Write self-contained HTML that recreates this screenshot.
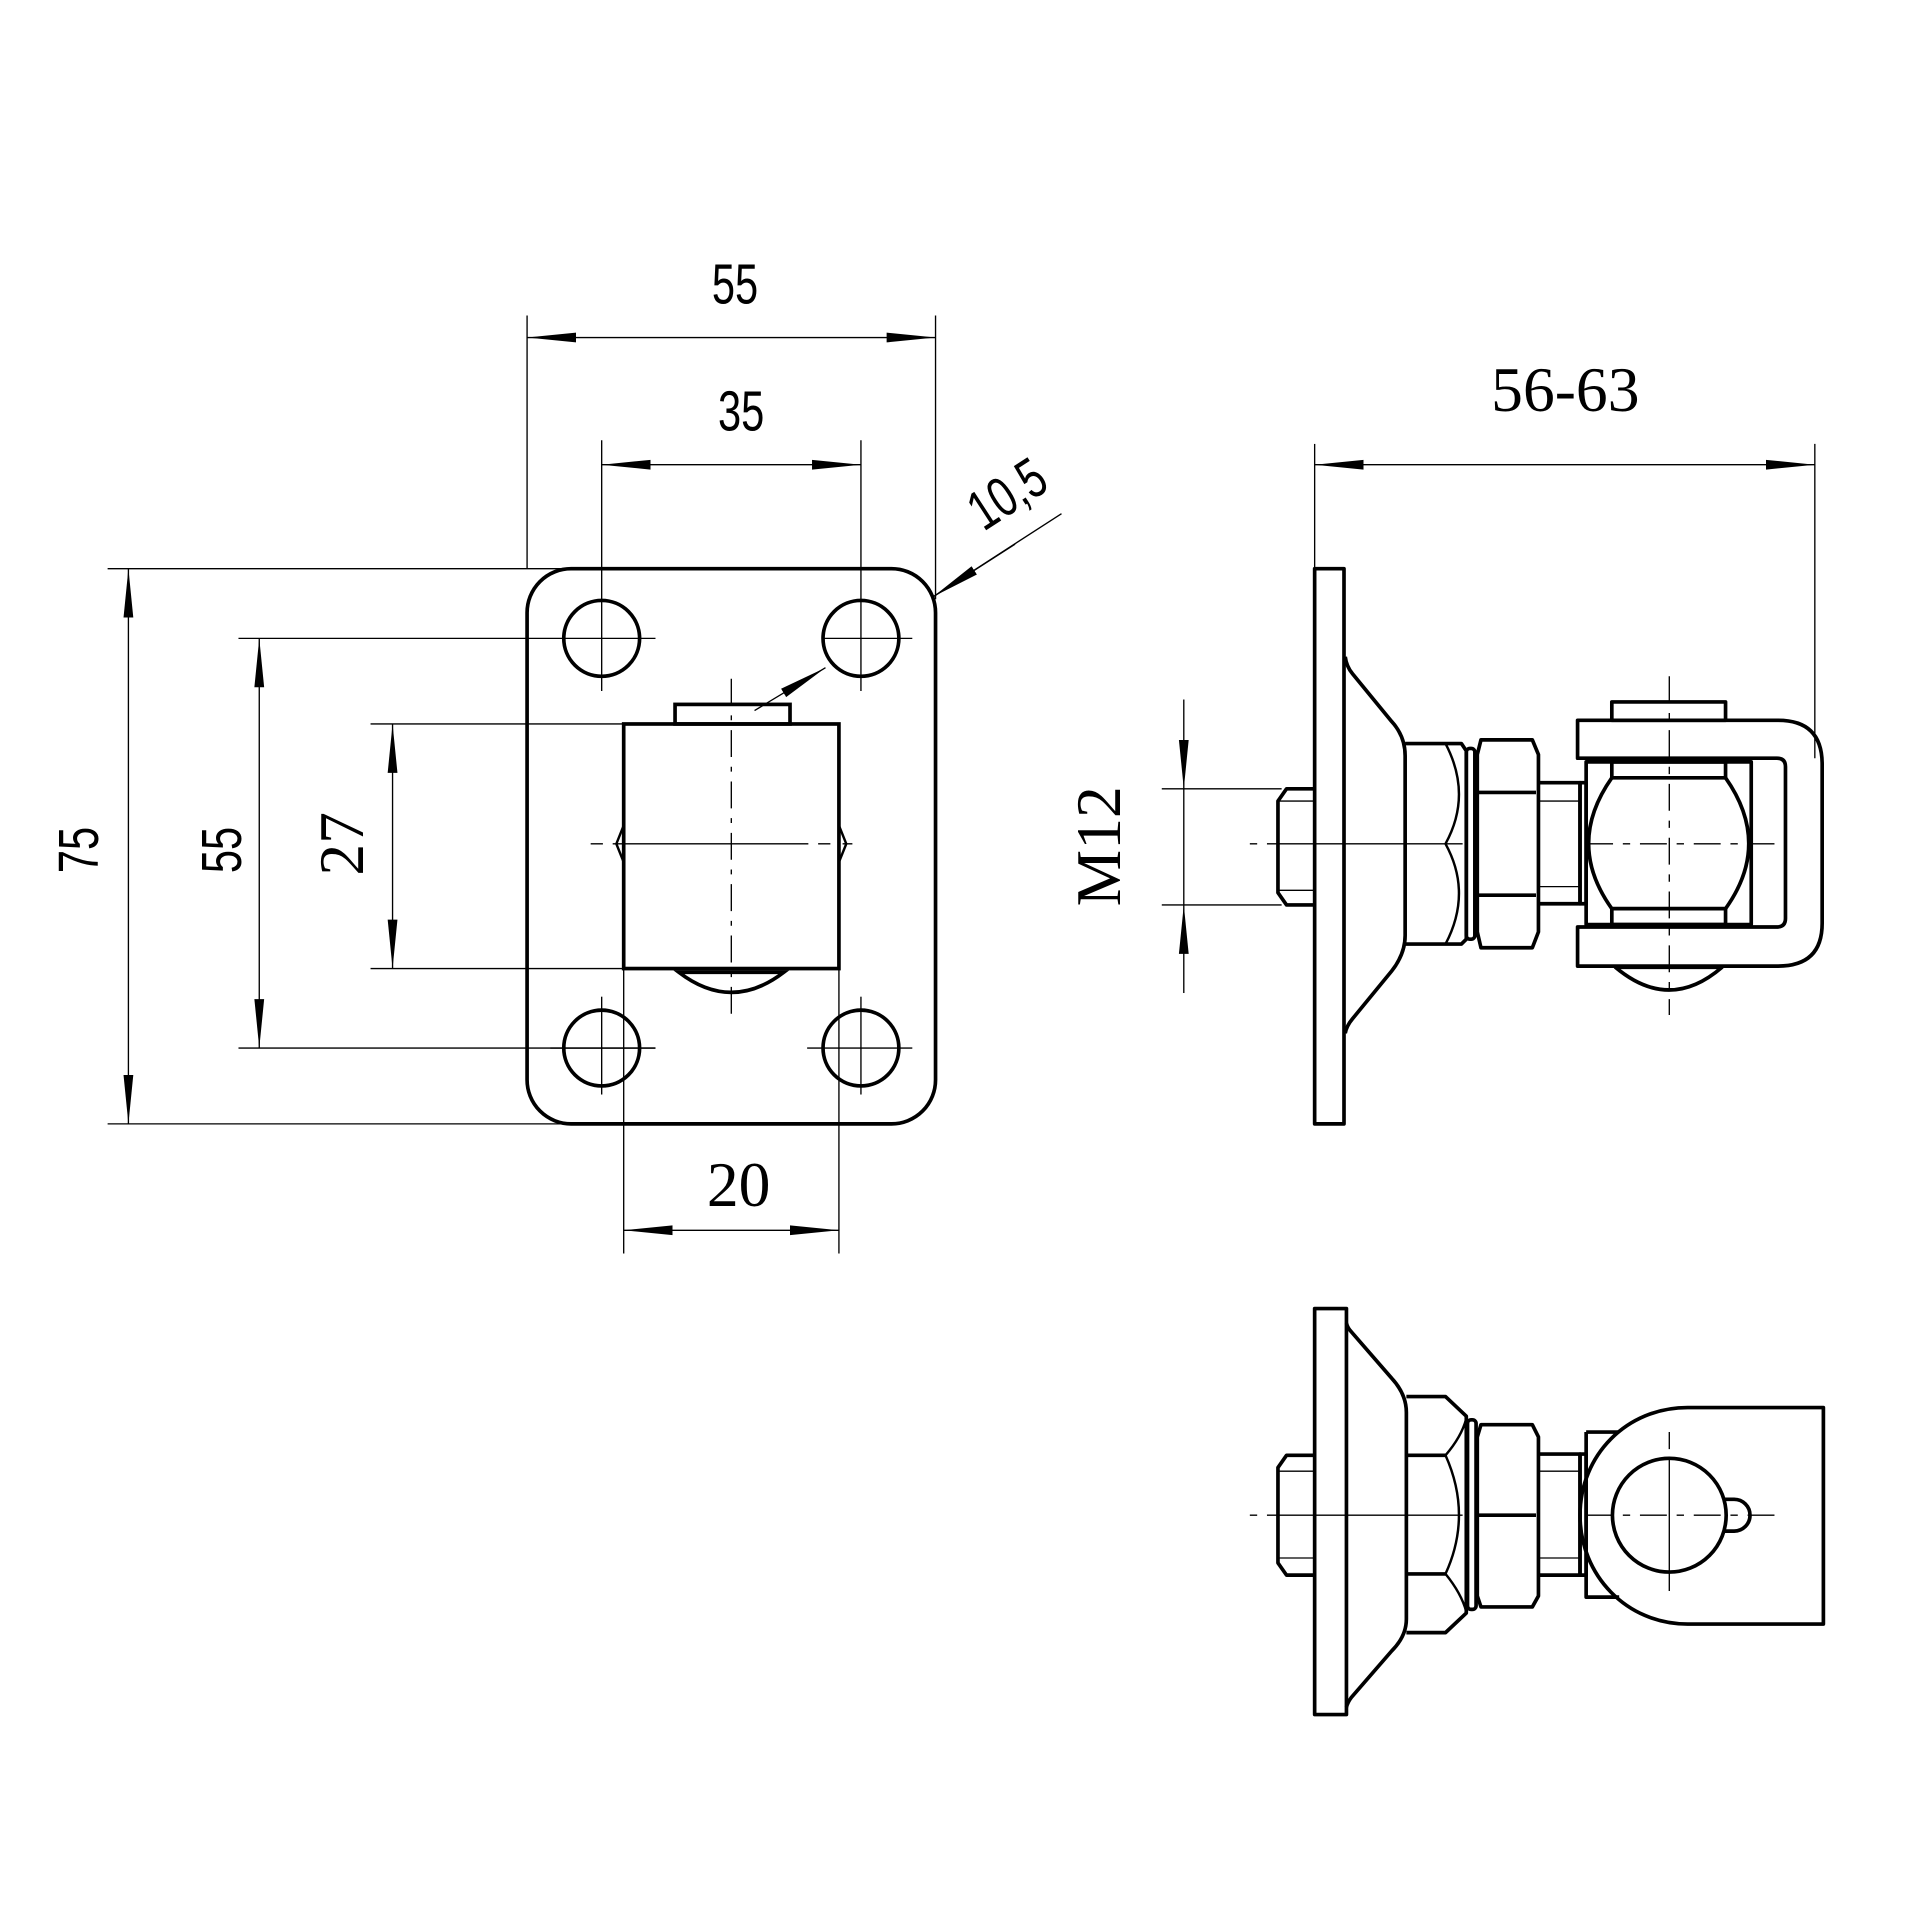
<!DOCTYPE html>
<html><head><meta charset="utf-8"><style>html,body{margin:0;padding:0;background:#fff}svg{display:block}</style></head><body>
<svg width="1920" height="1920" viewBox="0 0 1570 1570" xmlns="http://www.w3.org/2000/svg">
<defs>
<marker id="a" viewBox="0 0 40 10" refX="40" refY="5" markerWidth="40" markerHeight="10" markerUnits="userSpaceOnUse" orient="auto"><path d="M0,1 L40,5 L0,9 Z" fill="#000"/></marker>
<marker id="b" viewBox="0 0 40 10" refX="0" refY="5" markerWidth="40" markerHeight="10" markerUnits="userSpaceOnUse" orient="auto"><path d="M40,1 L0,5 L40,9 Z" fill="#000"/></marker>
</defs>
<g fill="none" stroke="#000" stroke-width="1.1">
<line x1="431" y1="258" x2="431" y2="465"/><line x1="765" y1="258" x2="765" y2="490"/>
<line x1="431" y1="276" x2="765" y2="276" marker-start="url(#b)" marker-end="url(#a)"/>
<line x1="492" y1="360" x2="492" y2="565"/><line x1="704" y1="360" x2="704" y2="565"/>
<line x1="492" y1="380" x2="704" y2="380" marker-start="url(#b)" marker-end="url(#a)"/>
<line x1="88" y1="465" x2="470" y2="465"/><line x1="88" y1="919" x2="470" y2="919"/>
<line x1="105" y1="465" x2="105" y2="919" marker-start="url(#b)" marker-end="url(#a)"/>
<line x1="195" y1="522" x2="536" y2="522"/><line x1="195" y1="857" x2="536" y2="857"/>
<line x1="212" y1="522" x2="212" y2="857" marker-start="url(#b)" marker-end="url(#a)"/>
<line x1="303" y1="592" x2="510" y2="592"/><line x1="303" y1="792" x2="510" y2="792"/>
<line x1="321" y1="592" x2="321" y2="792" marker-start="url(#b)" marker-end="url(#a)"/>
<line x1="510" y1="792" x2="510" y2="1025"/><line x1="686" y1="792" x2="686" y2="1025"/>
<line x1="510" y1="1006" x2="686" y2="1006" marker-start="url(#b)" marker-end="url(#a)"/>
<line x1="617" y1="581" x2="675" y2="546" marker-end="url(#a)"/>
<line x1="868" y1="420" x2="763" y2="488" />
<line x1="830" y1="445" x2="763" y2="488" marker-end="url(#a)"/>
<line x1="674" y1="522" x2="746" y2="522"/>
<line x1="450" y1="857" x2="536" y2="857"/><line x1="660" y1="857" x2="746" y2="857"/>
<line x1="492" y1="815" x2="492" y2="895"/><line x1="704" y1="815" x2="704" y2="895"/>
<line x1="598" y1="555" x2="598" y2="835" stroke-dasharray="22,8,4,8"/>
<line x1="483" y1="690" x2="716" y2="690" stroke-dasharray="10,8,160,8,10"/>
</g>
<g fill="none" stroke="#000" stroke-width="3">
<rect x="431" y="465" width="334" height="454" rx="36"/>
<circle cx="492" cy="522" r="31"/><circle cx="704" cy="522" r="31"/>
<circle cx="492" cy="857" r="31"/><circle cx="704" cy="857" r="31"/>
<rect x="510" y="592" width="176" height="200"/>
<rect x="552" y="576" width="94" height="16"/>
<path d="M555,795 Q598,828 641,795 Z"/>
<path d="M510,675 L504,690 L510,705 M686,675 L692,690 L686,705" stroke-width="2"/>
</g>
<g font-family="'Liberation Sans',sans-serif" font-size="46" fill="#000">
<text transform="translate(601 248) scale(0.74 1)" text-anchor="middle">55</text>
<text transform="translate(606 352) scale(0.74 1)" text-anchor="middle">35</text>
<text transform="translate(80 695) rotate(-90) scale(0.74 1)" text-anchor="middle">75</text>
<text transform="translate(197 695) rotate(-90) scale(0.74 1)" text-anchor="middle">55</text>
<text transform="translate(832 417) rotate(-33) scale(0.74 1)" text-anchor="middle">10,5</text>
</g>
<g font-family="'Liberation Serif',serif" font-size="52" fill="#000">
<text transform="translate(297 690) rotate(-90)" text-anchor="middle">27</text>
<text x="604" y="986" text-anchor="middle">20</text>
<text transform="translate(916 692) rotate(-90)" text-anchor="middle">M12</text>
<text x="1280" y="336" text-anchor="middle">56-63</text>
</g>
<g fill="none" stroke="#000" stroke-width="1.1">
<line x1="1075" y1="363" x2="1075" y2="465"/><line x1="1484" y1="363" x2="1484" y2="620"/>
<line x1="1075" y1="380" x2="1484" y2="380" marker-start="url(#b)" marker-end="url(#a)"/>
<line x1="950" y1="645" x2="1048" y2="645"/><line x1="950" y1="740" x2="1048" y2="740"/>
<line x1="968" y1="572" x2="968" y2="645" marker-end="url(#a)"/>
<line x1="968" y1="812" x2="968" y2="740" marker-end="url(#a)"/>
<line x1="968" y1="645" x2="968" y2="740"/>
<line x1="1022" y1="690" x2="1200" y2="690" stroke-dasharray="6,8,160"/>
<line x1="1297" y1="690" x2="1455" y2="690" stroke-dasharray="22,8,6,8"/>
<line x1="1365" y1="553" x2="1365" y2="830" stroke-dasharray="22,8,6,8"/>
<line x1="1045" y1="655" x2="1075" y2="655"/><line x1="1045" y1="728" x2="1075" y2="728"/>
<line x1="1257" y1="655" x2="1292" y2="655"/><line x1="1257" y1="725" x2="1292" y2="725"/>
</g>
<g fill="none" stroke="#000" stroke-width="3" stroke-linejoin="round">
<rect x="1075" y="465" width="24" height="454"/>
<path d="M1100,537 Q1101,545 1106,551 L1138,590 Q1149,602 1149,618 L1149,765 Q1149,780 1138,794 L1106,833 Q1101,839 1100,845"/>
<path d="M1075,645 L1052,645 L1045,655 L1045,730 L1052,740 L1075,740"/>
<path d="M1149,608 L1195,608 L1199,614 L1199,768 L1195,772 L1149,772"/>
<path d="M1182,608 Q1204,650 1182,690 Q1204,730 1182,772" stroke-width="2"/>
<rect x="1199" y="612" width="7" height="156" rx="3"/>
<path d="M1211,605 L1253,605 L1258,617 L1258,762 L1253,775 L1211,775 L1208,762 L1208,617 Z"/>
<line x1="1209" y1="648" x2="1256" y2="648"/><line x1="1209" y1="732" x2="1256" y2="732"/>
<path d="M1258,640 L1292,640 L1292,739 L1258,739"/>
<rect x="1292" y="640" width="5" height="99"/>
<path d="M1290,589 L1454,589 Q1490,589 1490,625 L1490,755 Q1490,790 1454,790 L1290,790 L1290,758 L1453,758 Q1460,758 1460,751 L1460,627 Q1460,620 1453,620 L1290,620 Z"/>
<rect x="1318" y="574" width="93" height="15"/>
<rect x="1297" y="623" width="135" height="133"/>
<rect x="1318" y="623" width="93" height="13"/><rect x="1318" y="743" width="93" height="13"/>
<path d="M1318,636 Q1280,690 1318,743 M1411,636 Q1449,690 1411,743"/>
<path d="M1321,791 Q1365,828 1408,791 Z"/>
</g>
<g fill="none" stroke="#000" stroke-width="1.1">
<line x1="1022" y1="1239" x2="1200" y2="1239" stroke-dasharray="6,8,160"/>
<line x1="1297" y1="1239" x2="1455" y2="1239" stroke-dasharray="22,8,6,8"/>
<line x1="1365" y1="1171" x2="1365" y2="1306" stroke-dasharray="14,6,110"/>
<line x1="1045" y1="1203" x2="1075" y2="1203"/><line x1="1045" y1="1274" x2="1075" y2="1274"/>
<line x1="1258" y1="1203" x2="1292" y2="1203"/><line x1="1258" y1="1274" x2="1292" y2="1274"/>
</g>
<g fill="none" stroke="#000" stroke-width="3" stroke-linejoin="round">
<rect x="1075" y="1070" width="26" height="332"/>
<path d="M1101,1082 Q1102,1086 1105,1089 L1138,1127 Q1150,1140 1150,1155 L1150,1324 Q1150,1338 1138,1350 L1105,1388 Q1102,1392 1101,1396"/>
<path d="M1075,1190 L1052,1190 L1045,1200 L1045,1278 L1052,1288 L1075,1288"/>
<path d="M1150,1142 L1182,1142 L1199,1158 L1199,1319 L1182,1335 L1150,1335"/>
<line x1="1150" y1="1190" x2="1182" y2="1190"/><line x1="1150" y1="1287" x2="1182" y2="1287"/>
<path d="M1182,1190 Q1204,1239 1182,1287 M1182,1190 Q1195,1175 1199,1160 M1182,1287 Q1195,1303 1199,1318" stroke-width="2"/>
<rect x="1200" y="1161" width="7" height="155" rx="3"/>
<path d="M1211,1165 L1253,1165 L1258,1175 L1258,1305 L1253,1314 L1211,1314 L1208,1305 L1208,1175 Z"/>
<line x1="1209" y1="1239" x2="1256" y2="1239"/>
<path d="M1258,1189 L1292,1189 L1292,1288 L1258,1288"/>
<rect x="1292" y="1189" width="5" height="99"/>
<path d="M1297,1171 L1324,1171 M1297,1171 L1297,1306 L1324,1306"/>
<path d="M1491,1151 L1380,1151 C1330,1151 1292,1190 1292,1239 C1292,1288 1330,1328 1380,1328 L1491,1328 Z"/>
<circle cx="1365" cy="1239" r="46.5"/>
<path d="M1410,1226 L1418,1226 A13 13 0 0 1 1418,1252 L1410,1252"/>
</g>
</svg>
</body></html>
